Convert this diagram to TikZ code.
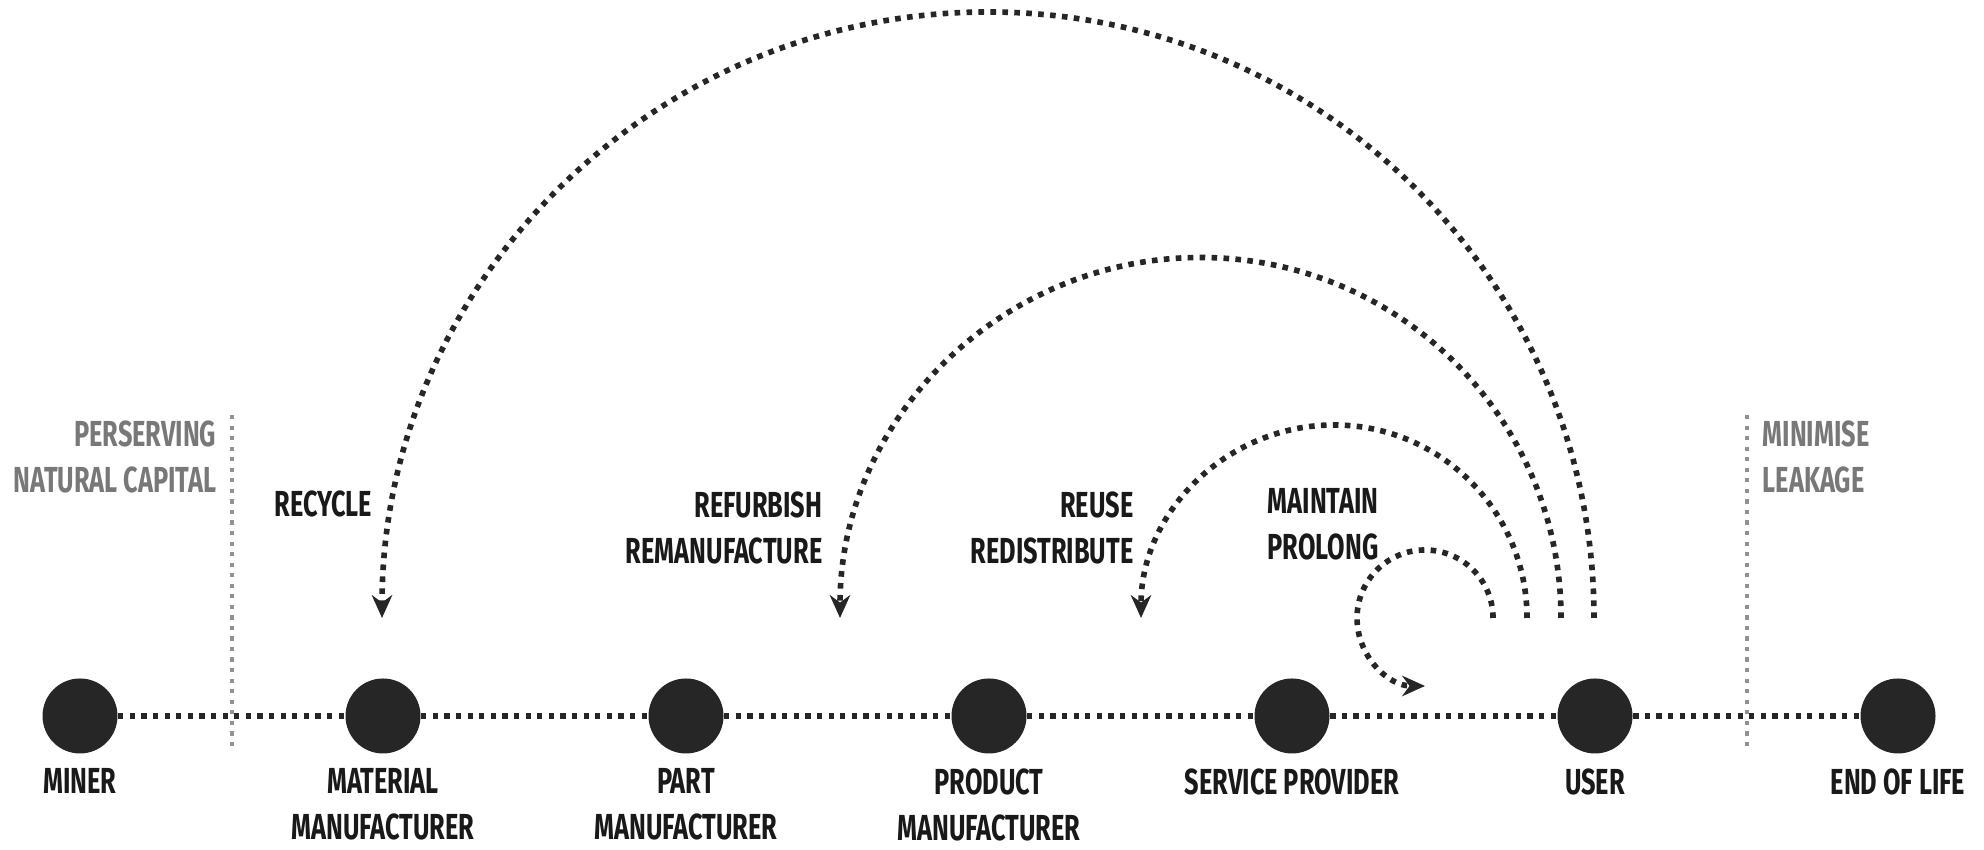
\documentclass[tikz,border=0pt]{standalone}
\usepackage{fontspec}
\usepackage{xcolor}
\usepackage{tikz}
\usetikzlibrary{
  arrows.meta,
  positioning
}
\newfontfamily\diagfont{Fira Sans Bold}[FakeStretch=0.70]
\definecolor{dotdark}{RGB}{38, 38, 38}
\definecolor{txtdark}{RGB}{25, 25, 25}
\definecolor{capgray}{RGB}{120, 120, 120}
\definecolor{divgray}{RGB}{145, 145, 145}

\begin{document}
\begin{tikzpicture}[
  stage/.style={circle, fill=dotdark, minimum size=0.75cm, inner sep=0pt},
  flow/.style={line width=1.5pt, draw=dotdark, dash pattern=on 1.5pt off 1.8pt},
  back/.style={
    line width=1.6pt, draw=dotdark, dash pattern=on 1.6pt off 1.8pt,
    -{Stealth[length=6.5pt, width=5.8pt]}
  },
  divider/.style={line width=1.2pt, draw=divgray, dash pattern=on 1.2pt off 1.8pt},
  lbl/.style={
    font=\diagfont\fontsize{10.3}{13}\selectfont, text=txtdark,
    inner sep=0pt, align=center
  },
  note/.style={lbl, anchor=north east, align=right},
  side/.style={lbl, text=capgray}
]
\useasboundingbox (0,0) rectangle (19.84,8.5);

% stages of the chain
\node[stage] (miner)    at (0.80, 1.34) {};
\node[stage] (material) at (3.83, 1.34) {};
\node[stage] (part)     at (6.86, 1.34) {};
\node[stage] (product)  at (9.89, 1.34) {};
\node[stage] (service)  at (12.92, 1.34) {};
\node[stage] (user)     at (15.95, 1.34) {};
\node[stage] (eol)      at (18.98, 1.34) {};

\draw[flow] (miner) -- (material) -- (part) -- (product)
  -- (service) -- (user) -- (eol);

\node[lbl, below=0.14cm of miner]    (miner-lbl)    {MINER};
\node[lbl, below=0.14cm of material] (material-lbl) {MATERIAL\\MANUFACTURER};
\node[lbl, below=0.14cm of part]     (part-lbl)     {PART\\MANUFACTURER};
\node[lbl, below=0.14cm of product]  (product-lbl)  {PRODUCT\\MANUFACTURER};
\node[lbl, below=0.14cm of service]  (service-lbl)  {SERVICE PROVIDER};
\node[lbl, below=0.14cm of user]     (user-lbl)     {USER};
\node[lbl, below=0.14cm of eol]      (eol-lbl)      {END OF LIFE};

% boundaries
\draw[divider] (2.32, 4.35) -- (2.32, 0.98);
\draw[divider] (17.47, 4.35) -- (17.47, 0.98);
\node[side, anchor=north east, align=right] (capital-lbl) at (2.17, 4.30)
  {PERSERVING\\NATURAL CAPITAL};
\node[side, anchor=north west, align=left] (leakage-lbl) at (17.62, 4.30)
  {MINIMISE\\LEAKAGE};

% loops back from the user
\coordinate (recycle-from)   at (15.94, 2.32);
\coordinate (refurbish-from) at (15.61, 2.32);
\coordinate (reuse-from)     at (15.27, 2.32);
\coordinate (maintain-from)  at (14.93, 2.32);

\draw[back] (recycle-from) arc[start angle=0, end angle=180, radius=6.06];
\draw[back] (refurbish-from) arc[start angle=0, end angle=180, radius=3.605];
\draw[back] (reuse-from) arc[start angle=0, end angle=180, radius=1.93];
\draw[back] (maintain-from) arc[start angle=0, end angle=270, radius=0.68];

\node[note] (recycle-lbl)   at (3.73, 3.60) {RECYCLE};
\node[note] (refurbish-lbl) at (8.23, 3.59) {REFURBISH\\REMANUFACTURE};
\node[note] (reuse-lbl)     at (11.34, 3.59) {REUSE\\REDISTRIBUTE};
\node[note, anchor=north west, align=left] (maintain-lbl) at (12.67, 3.62)
  {MAINTAIN\\PROLONG};
\end{tikzpicture}
\end{document}
